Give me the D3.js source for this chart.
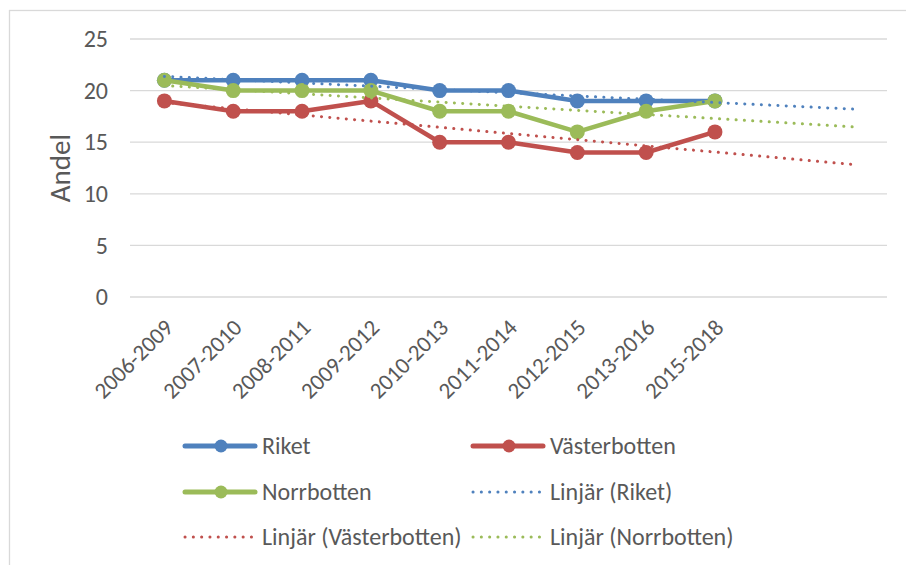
<!DOCTYPE html>
<html>
<head>
<meta charset="utf-8">
<script src="https://cdn.jsdelivr.net/npm/d3@7"></script>
<style>
  body { margin: 0; background: #fff; }
  svg { display: block; font-family: Calibri, Carlito, "Liberation Sans", sans-serif; }
  .grid line { stroke: #d9d9d9; stroke-width: 1.3; }
  text { fill: #595959; }
</style>
</head>
<body>
<svg id="chart" width="906" height="565"></svg>
<script>
// periods on the x axis
const periods = ['2006-2009', '2007-2010', '2008-2011', '2009-2012', '2010-2013',
                 '2011-2014', '2012-2015', '2013-2016', '2015-2018'];
// two extra slots that only the trend lines reach into
const forecastSlots = ['f1', 'f2'];

const riket        = [21, 21, 21, 21, 20, 20, 19, 19, 19];
const vasterbotten = [19, 18, 18, 19, 15, 15, 14, 14, 16];
const norrbotten   = [21, 20, 20, 20, 18, 18, 16, 18, 19];

const yTicks = [0, 5, 10, 15, 20, 25];

const series = [
  {name: 'Riket',        values: riket,        color: '#4f81bd'},
  {name: 'Västerbotten', values: vasterbotten, color: '#c0504d'},
  {name: 'Norrbotten',   values: norrbotten,   color: '#9bbb59'}
];

const FONT = 'Calibri, Carlito, "Liberation Sans", sans-serif';
const svg = d3.select('#chart');

// outer chart frame (right/bottom edges fall outside the picture)
svg.append('rect')
    .attr('x', 9.5).attr('y', 10.5)
    .attr('width', 920).attr('height', 580)
    .attr('fill', 'none')
    .attr('stroke', '#d9d9d9')
    .attr('stroke-width', 1.3);

const plot = {left: 130, right: 887, top: 39, bottom: 297};

const x = d3.scaleBand()
    .domain(periods.concat(forecastSlots))
    .range([plot.left, plot.right]);
const cx = d => x(d) + x.bandwidth() / 2;

const y = d3.scaleLinear()
    .domain([0, 25])
    .range([plot.bottom, plot.top]);

// horizontal grid
svg.append('g').attr('class', 'grid')
  .selectAll('line')
  .data(yTicks)
  .join('line')
    .attr('x1', plot.left).attr('x2', plot.right)
    .attr('y1', d => y(d)).attr('y2', d => y(d));

// y axis tick labels
const yAxis = svg.append('g')
    .attr('transform', `translate(${plot.left - 22},0)`)
    .call(d3.axisLeft(y).tickValues(yTicks).tickSize(0).tickPadding(0));
yAxis.select('.domain').remove();
yAxis.selectAll('text')
    .attr('fill', '#595959')
    .style('font-size', '24px')
    .style('font-family', FONT);

// y axis title
svg.append('text')
    .attr('transform', `translate(70,${(plot.top + plot.bottom) / 2}) rotate(-90)`)
    .attr('text-anchor', 'middle')
    .style('font-size', '29px')
    .text('Andel');

// x axis labels, rotated
const xAxis = svg.append('g')
    .attr('transform', `translate(0,${plot.bottom})`)
    .call(d3.axisBottom(x).tickValues(periods).tickSize(0).tickPadding(0));
xAxis.select('.domain').remove();
xAxis.selectAll('text')
    .attr('fill', '#595959')
    .style('font-size', '23px')
    .style('font-family', FONT)
    .attr('text-anchor', 'end')
    .attr('dy', null)
    .attr('transform', 'translate(10,32) rotate(-45)');

// least squares trend over the observed periods, extended over the forecast slots
function trend(values) {
  const n = values.length;
  const xs = d3.range(1, n + 1);
  const mx = d3.mean(xs), my = d3.mean(values);
  const slope = d3.sum(xs, (xi, i) => (xi - mx) * (values[i] - my)) /
                d3.sum(xs, xi => (xi - mx) * (xi - mx));
  const icpt = my - slope * mx;
  const all = x.domain();
  return [{k: all[0], v: icpt + slope}, {k: all[all.length - 1], v: icpt + slope * all.length}];
}

const line = d3.line().x(d => cx(d.k)).y(d => y(d.v));

series.forEach(s => {
  const pts = s.values.map((v, i) => ({k: periods[i], v}));
  const g = svg.append('g');
  g.append('path')
      .datum(pts)
      .attr('d', line)
      .attr('fill', 'none')
      .attr('stroke', s.color)
      .attr('stroke-width', 4.5)
      .attr('stroke-linejoin', 'round');
  g.selectAll('circle')
    .data(pts)
    .join('circle')
      .attr('cx', d => cx(d.k))
      .attr('cy', d => y(d.v))
      .attr('r', 7.5)
      .attr('fill', s.color);
});

series.forEach(s => {
  svg.append('path')
      .datum(trend(s.values))
      .attr('d', line)
      .attr('fill', 'none')
      .attr('stroke', s.color)
      .attr('stroke-width', 3)
      .attr('stroke-linecap', 'round')
      .attr('stroke-dasharray', '0.1 8.2');
});

// legend
const legendItems = [
  {label: 'Riket',                 color: '#4f81bd', dotted: false},
  {label: 'Västerbotten',          color: '#c0504d', dotted: false},
  {label: 'Norrbotten',            color: '#9bbb59', dotted: false},
  {label: 'Linjär (Riket)',        color: '#4f81bd', dotted: true},
  {label: 'Linjär (Västerbotten)', color: '#c0504d', dotted: true},
  {label: 'Linjär (Norrbotten)',   color: '#9bbb59', dotted: true}
];
const colX = [185, 473], rowY = [446, 492, 537];

const leg = svg.append('g')
  .selectAll('g')
  .data(legendItems)
  .join('g')
    .attr('transform', (d, i) => `translate(${colX[i % 2]},${rowY[Math.floor(i / 2)]})`);

leg.append('line')
    .attr('x1', 0).attr('x2', 70)
    .attr('stroke', d => d.color)
    .attr('stroke-width', d => d.dotted ? 3 : 5)
    .attr('stroke-linecap', 'round')
    .attr('stroke-dasharray', d => d.dotted ? '0.1 8.2' : null);
leg.filter(d => !d.dotted).append('circle')
    .attr('cx', 36).attr('r', 6.5)
    .attr('fill', d => d.color);
leg.append('text')
    .attr('x', 77).attr('dy', '0.35em')
    .style('font-size', '24px')
    .text(d => d.label);
</script>
</body>
</html>
